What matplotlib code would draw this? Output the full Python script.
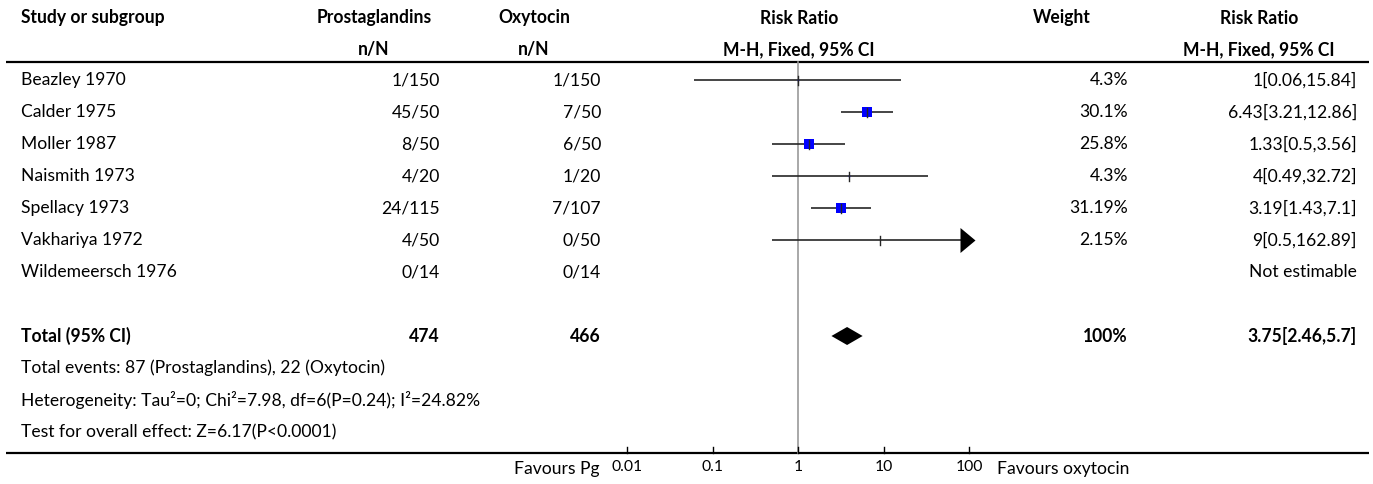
import matplotlib
matplotlib.use("Agg")
import matplotlib.pyplot as plt

plt.rcParams['font.family'] = ['Lato', 'DejaVu Sans']

# ---------------- data ----------------
studies = ["Beazley 1970", "Calder 1975", "Moller 1987", "Naismith 1973",
           "Spellacy 1973", "Vakhariya 1972", "Wildemeersch 1976"]
pg_events = [1, 45, 8, 4, 24, 4, 0]
pg_total = [150, 50, 50, 20, 115, 50, 14]
oxy_events = [1, 7, 6, 1, 7, 0, 0]
oxy_total = [150, 50, 50, 20, 107, 50, 14]
rr_est = [1, 6.43, 1.33, 4, 3.19, 9, None]
rr_low = [0.06, 3.21, 0.5, 0.49, 1.43, 0.5, None]
rr_high = [15.84, 12.86, 3.56, 32.72, 7.1, 162.89, None]
weights = [4.3, 30.1, 25.8, 4.3, 31.19, 2.15, None]

total_pg = 474
total_oxy = 466
total_est, total_low, total_high = 3.75, 2.46, 5.7
total_weight = 100
footer_lines = ["Total events: 87 (Prostaglandins), 22 (Oxytocin)",
                "Heterogeneity: Tau\u00b2=0; Chi\u00b2=7.98, df=6(P=0.24); I\u00b2=24.82%",
                "Test for overall effect: Z=6.17(P<0.0001)"]
tick_values = [0.01, 0.1, 1, 10, 100]
tick_labels = ["0.01", "0.1", "1", "10", "100"]
left_label = "Favours Pg"
right_label = "Favours oxytocin"

# ---------------- layout ----------------
W, H = 1373, 484
fig = plt.figure(figsize=(W / 100, H / 100), dpi=100)
ax = fig.add_axes([0, 0, 1, 1])
ax.set_xlim(0, W)
ax.set_ylim(H, 0)
ax.axis('off')

x0, x1 = 627, 969  # pixel positions of 0.01 and 100
fx = fig.add_axes([x0 / W, 0, (x1 - x0) / W, 1])
fx.set_xscale('log')
fx.set_xlim(0.01, 100)
fx.set_ylim(H, 0)
fx.axis('off')
fx.patch.set_visible(False)

TXT = 'black'
texts = []


def T(x, y, s, ha='left', bold=False, size=10):
    t = ax.text(x, y, s, ha=ha, va='center', color=TXT,
                fontweight='bold' if bold else 'normal', fontsize=size)
    texts.append(t)
    return t


x_study = 21
x_pg = 440
x_pg_c = 374
x_oxy = 601
x_oxy_c = 534
x_rr_c = 799
x_w = 1128
x_w_c = 1062
x_rr2 = 1357
x_rr2_c = 1259

y_h1, y_h2, y_line = 18, 50, 62
row_y = [80 + 32 * i for i in range(len(studies))]
y_total = 336
y_foot = [368, 400, 432]
y_axis = 453
y_lab = 469

# headers
T(x_study, y_h1, "Study or subgroup", bold=True)
T(x_pg_c, y_h1, "Prostaglandins", ha='center', bold=True)
T(x_pg_c, y_h2, "n/N", ha='center', bold=True)
T(x_oxy_c, y_h1, "Oxytocin", ha='center', bold=True)
T(x_oxy_c, y_h2, "n/N", ha='center', bold=True)
T(x_rr_c, y_h1, "Risk Ratio", ha='center', bold=True)
T(x_rr_c, y_h2, "M-H, Fixed, 95% CI", ha='center', bold=True)
T(x_w_c, y_h1, "Weight", ha='center', bold=True)
T(x_rr2_c, y_h1, "Risk Ratio", ha='center', bold=True)
T(x_rr2_c, y_h2, "M-H, Fixed, 95% CI", ha='center', bold=True)

ax.plot([6, 1369], [y_line, y_line], color='black', lw=1.6, solid_capstyle='butt')
ax.plot([6, 1369], [y_axis, y_axis], color='black', lw=1.6, solid_capstyle='butt')

# null line
fx.plot([1, 1], [y_line, y_axis], color='#9a9a9a', lw=1.2, zorder=1)

ci_color = '#262626'
for i, name in enumerate(studies):
    y = row_y[i]
    T(x_study, y, name)
    T(x_pg, y, f"{pg_events[i]}/{pg_total[i]}", ha='right')
    T(x_oxy, y, f"{oxy_events[i]}/{oxy_total[i]}", ha='right')
    if rr_est[i] is None:
        T(x_rr2, y, "Not estimable", ha='right')
        continue
    T(x_w, y, f"{weights[i]:g}%", ha='right')
    T(x_rr2, y, f"{rr_est[i]:g}[{rr_low[i]:g},{rr_high[i]:g}]", ha='right')
    hi = min(rr_high[i], 100)
    fx.plot([rr_low[i], hi], [y, y], color=ci_color, lw=1.2, zorder=2,
            solid_capstyle='butt', clip_on=False)
    side = 0.35 * weights[i]
    fx.plot([rr_est[i]], [y], marker='s', color='#0000ff', markersize=side * 0.72,
            markeredgewidth=0, zorder=3, clip_on=False)
    fx.plot([rr_est[i], rr_est[i]], [y - 4.5, y + 4.5], color=ci_color, lw=1.0,
            zorder=4, clip_on=False)
    if rr_high[i] > 100:
        fx.plot([100], [y], marker=[(-9, -12.5), (6, 0), (-9, 12.5), (-9, -12.5)],
                color='black', markersize=18, markeredgewidth=0, zorder=4,
                clip_on=False)

# total
T(x_study, y_total, "Total (95% CI)", bold=True)
T(x_pg, y_total, f"{total_pg}", ha='right', bold=True)
T(x_oxy, y_total, f"{total_oxy}", ha='right', bold=True)
T(x_w, y_total, f"{total_weight}%", ha='right', bold=True)
T(x_rr2, y_total, f"{total_est:g}[{total_low:g},{total_high:g}]", ha='right', bold=True)
fx.fill([total_low, total_est, total_high, total_est],
        [y_total, y_total - 9, y_total, y_total + 9], color='black', lw=0, zorder=4)

ref = None
for j, line in enumerate(footer_lines):
    t = T(x_study, y_foot[j], line)
    if j == 0:
        ref = t

# axis ticks
tick_texts = []
for v, lab in zip(tick_values, tick_labels):
    fx.plot([v, v], [y_axis - 6, y_axis], color='black', lw=1.0, clip_on=False)
    tt = fx.text(v, y_lab - 2, lab, ha='center', va='center', color=TXT, fontsize=9)
    tick_texts.append(tt)
T(600, y_lab, left_label, ha='right')
T(997, y_lab, right_label, ha='left')

# scale fonts so that text widths match the reference
renderer = fig.canvas.get_renderer()
w_ref = ref.get_window_extent(renderer=renderer).width
scale = 364.0 / w_ref
for t in texts + tick_texts:
    t.set_fontsize(t.get_fontsize() * scale)

fig.savefig("out.png", dpi=100)
